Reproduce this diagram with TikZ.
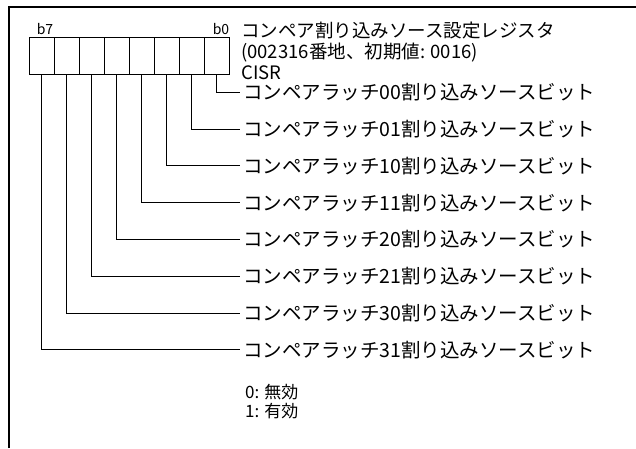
\documentclass[tikz,border=0pt]{standalone}
\usepackage{fontspec}
\setmainfont{Noto Sans CJK JP}
\tikzset{
  bitbox/.style={draw,line width=1pt,minimum width=25pt,minimum height=37pt,inner sep=0pt},
  bitlabel/.style={anchor=west,inner xsep=3pt,inner ysep=0pt,font=\fontsize{19.5}{22}\selectfont},
  leader/.style={line width=1pt},
}
\begin{document}
\begin{tikzpicture}[x=1pt,y=-1pt]
				\useasboundingbox (0,0) rectangle (636,448);
				\draw[line width=2.5pt] (9,448) -- (9,7) -- (636,7);
				
				% register cells b0 ... b7
				\foreach \i in {0,...,7}
					\node[bitbox] (bit\i) at (216.5-25*\i,55.5) {};
				\node[font=\fontsize{14}{16}\selectfont] (b7) at (45,29) {b7};
				\node[font=\fontsize{14}{16}\selectfont] (b0) at (221,29) {b0};
				
				\node[anchor=north west,align=left,inner sep=0pt,font=\fontsize{18.5}{21}\selectfont] (title) at (241,22)
					{コンペア割り込みソース設定レジスタ\\(002316番地、初期値: 0016)\\CISR};
				
				% bit names
				\node[bitlabel] (lab0) at (240,92) {コンペアラッチ00割り込みソースビット};
				\foreach \i/\c in {1/01,2/10,3/11,4/20,5/21,6/30,7/31}
					\node[bitlabel] (lab\i) at (240,129+36.8*\i-36.8) {コンペアラッチ\c 割り込みソースビット};
				\foreach \i in {0,...,7}
					\draw[leader] (bit\i.south) |- (lab\i.west);
				
				\node[anchor=west,align=left,inner sep=0pt,font=\fontsize{17}{19}\selectfont] (values) at (245,402)
					{0: 無効\\1: 有効};
\end{tikzpicture}
\end{document}
